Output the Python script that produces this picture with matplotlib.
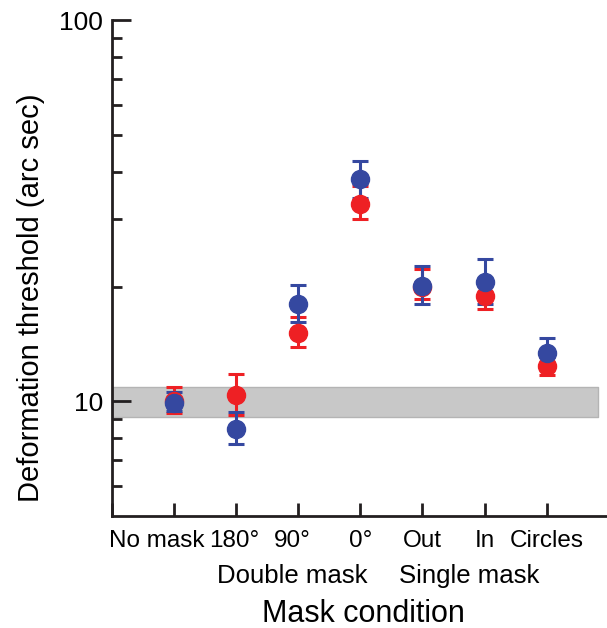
import matplotlib.pyplot as plt
import matplotlib.transforms as mtransforms

plt.rcParams['font.family'] = ['Liberation Sans', 'DejaVu Sans']

# conditions along the x axis
conditions = ['No mask', '180°', '90°', '0°', 'Out', 'In', 'Circles']
groups = ['Double mask', 'Single mask']

# thresholds (arc sec)
blue_mean = [9.90, 8.46, 17.97, 38.2, 20.1, 20.6, 13.38]
blue_low = [9.42, 7.73, 16.2, 34.2, 18.05, 17.97, 12.17]
blue_high = [10.56, 9.39, 20.16, 42.8, 22.6, 23.6, 14.7]

red_mean = [10.04, 10.38, 15.09, 33.0, 20.0, 18.9, 12.4]
red_low = [9.30, 9.21, 13.85, 30.1, 18.6, 17.5, 11.72]
red_high = [10.88, 11.79, 16.6, 36.8, 22.2, 20.4, 13.1]

# grey reference band
band_low, band_high = 9.08, 10.88

blue = '#3548a0'
red = '#ee2024'
ink = '#231f20'

x = list(range(1, len(conditions) + 1))

fig = plt.figure(figsize=(6.07, 6.28), dpi=100)
ax = fig.add_axes([0.184, 0.178, 0.816, 0.79])

ax.fill_between([0, 7.83], band_low, band_high, facecolor='#c8c8c8',
                edgecolor='#b4b4b4', linewidth=1, zorder=1)

for mean, low, high, col in [(red_mean, red_low, red_high, red),
                             (blue_mean, blue_low, blue_high, blue)]:
    err = [[m - l for m, l in zip(mean, low)], [h - m for m, h in zip(mean, high)]]
    ax.errorbar(x, mean, yerr=err, fmt='o', color=col, ms=13, elinewidth=2.2,
                capsize=5.5, capthick=2.2, zorder=3)

ax.set_yscale('log')
ax.set_ylim(5, 100)
ax.set_xlim(0, 7.97)
ax.set_yticks([10, 100])
ax.set_yticklabels(['10', '100'])
ax.set_yticks([6, 7, 8, 9, 20, 30, 40, 50, 60, 70, 80, 90], minor=True)
ax.yaxis.set_minor_formatter(plt.NullFormatter())

ax.set_xticks([0] + x)
ax.set_xticklabels([''] + conditions)

for side in ['top', 'right']:
    ax.spines[side].set_visible(False)
for side in ['left', 'bottom']:
    ax.spines[side].set_linewidth(2)
    ax.spines[side].set_color(ink)

ax.tick_params(axis='y', which='major', direction='in', length=13.5, width=2,
               color=ink, labelsize=19, pad=6)
ax.tick_params(axis='y', which='minor', direction='in', length=7, width=2, color=ink)
ax.tick_params(axis='x', direction='in', length=9.5, width=2, color=ink,
               labelsize=17.5, pad=10)

# nudge crowded labels so they don't collide
labels = ax.get_xticklabels()
for i, dx in [(1, -17), (2, -2), (3, -6)]:
    labels[i].set_transform(labels[i].get_transform() +
                            mtransforms.ScaledTranslation(dx / 100, 0, fig.dpi_scale_trans))

trans = mtransforms.blended_transform_factory(ax.transData, ax.transAxes)
ax.text(2.9, -0.135, groups[0], transform=trans, ha='center', va='baseline', fontsize=18.5)
ax.text(5.76, -0.135, groups[1], transform=trans, ha='center', va='baseline', fontsize=18.5)

ax.set_xlabel('Mask condition', fontsize=22)
ax.xaxis.set_label_coords(0.508, -0.166)
ax.set_ylabel('Deformation threshold (arc sec)', fontsize=21)
ax.yaxis.set_label_coords(-0.135, 0.44)

fig.savefig('out.png', dpi=100)
